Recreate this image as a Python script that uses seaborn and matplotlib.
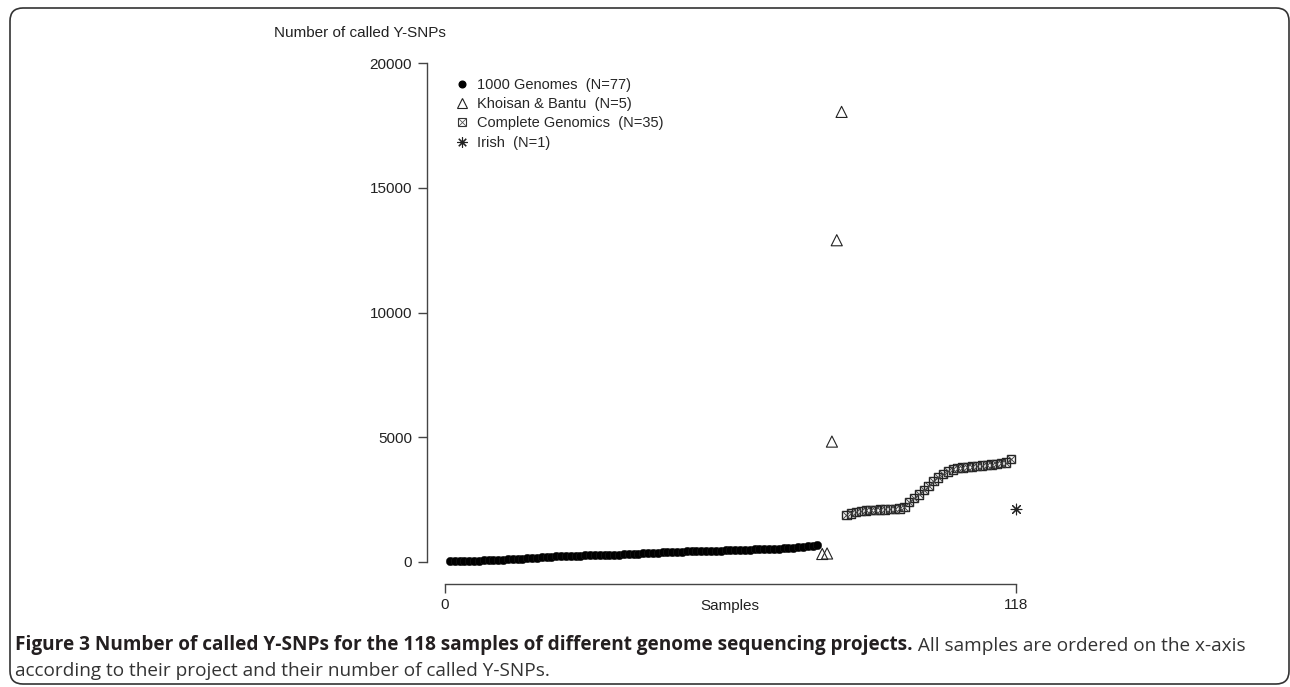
import matplotlib

matplotlib.use("Agg")
import matplotlib.pyplot as plt
import numpy as np
import pandas as pd
import seaborn as sns
from matplotlib.lines import Line2D
from matplotlib.patches import FancyBboxPatch

# Number of called Y-SNPs per sample, each project sorted ascending
genomes_1000 = [
    20, 25, 30, 35, 38, 40, 45, 50, 55, 60,
    70, 80, 90, 100, 110, 120, 135, 150, 165, 180,
    190, 200, 210, 215, 220, 230, 240, 245, 250, 255,
    260, 262, 265, 268, 272, 280, 290, 300, 310, 320,
    330, 340, 350, 360, 370, 380, 390, 400, 405, 410,
    415, 420, 425, 430, 435, 440, 445, 450, 455, 460,
    465, 470, 480, 490, 495, 500, 510, 515, 520, 530,
    540, 555, 570, 590, 610, 640, 670,
]
khoisan_bantu = [310, 330, 4820, 12900, 18050]
complete_genomics = [
    1880, 1940, 2000, 2040, 2060, 2070, 2080, 2090, 2100, 2110,
    2120, 2140, 2200, 2400, 2550, 2700, 2880, 3050, 3250, 3380,
    3520, 3620, 3700, 3750, 3780, 3800, 3820, 3840, 3860, 3880,
    3900, 3920, 3950, 3980, 4110,
]
irish = [2100]

projects = ["1000 Genomes", "Khoisan & Bantu", "Complete Genomics", "Irish"]
values = [genomes_1000, khoisan_bantu, complete_genomics, irish]

# samples are numbered 1..118 in project order
rows = []
i = 1
for name, vals in zip(projects, values):
    for v in vals:
        rows.append({"sample": i, "snps": v, "project": name})
        i += 1
df = pd.DataFrame(rows)
n_total = len(df)

sns.set_style("ticks")
plt.rcParams["font.family"] = ["Liberation Sans", "DejaVu Sans"]

W, H = 1290, 687
fig = plt.figure(figsize=(W / 100, H / 100), dpi=100)
ax = fig.add_axes([445 / W, 1 - 561.7 / H, 570.7 / W, 498.4 / H])

grp = {p: df[df["project"] == p] for p in projects}
sns.scatterplot(data=grp["1000 Genomes"], x="sample", y="snps", ax=ax,
                marker="o", s=38, color="black", edgecolor="#222222",
                linewidth=0.3, clip_on=False, zorder=3)
sns.scatterplot(data=grp["Khoisan & Bantu"], x="sample", y="snps", ax=ax,
                marker="^", s=64, facecolor="none", edgecolor="#222222",
                linewidth=0.8, clip_on=False, zorder=3)
sns.scatterplot(data=grp["Complete Genomics"], x="sample", y="snps", ax=ax,
                marker="s", s=36, facecolor="none", edgecolor="#222222",
                linewidth=1.0, clip_on=False, zorder=3)
sns.scatterplot(data=grp["Complete Genomics"], x="sample", y="snps", ax=ax,
                marker="x", s=36, color="#444444", linewidth=0.7,
                clip_on=False, zorder=3)
sns.scatterplot(data=grp["Irish"], x="sample", y="snps", ax=ax,
                marker=(8, 2, 0), s=59, color="#222222", linewidth=0.8,
                clip_on=False, zorder=3)

ax.set_xlim(0, n_total)
ax.set_ylim(0, 20000)
ax.set_xticks([0, n_total])
ax.set_yticks([0, 5000, 10000, 15000, 20000])
ax.set_xlabel("")
ax.set_ylabel("")
for side in ["top", "right"]:
    ax.spines[side].set_visible(False)
ax.spines["left"].set_position(("outward", 13))
ax.spines["bottom"].set_position(("outward", 16.3))
for side in ["left", "bottom"]:
    ax.spines[side].set_color("#444444")
    ax.spines[side].set_linewidth(1.0)
ax.tick_params(axis="both", direction="out", length=6.2, width=1.0,
               color="#444444", labelsize=11, labelcolor="#222222")
ax.tick_params(axis="y", pad=4.6)
ax.tick_params(axis="x", pad=3.6)

ax.annotate("Samples", xy=(n_total / 2, 0), xycoords=("data", "axes fraction"),
            xytext=(0, -44 * 0.72), textcoords="offset points",
            ha="center", va="center", fontsize=11, color="#222222")
fig.text(274 / W, 1 - 33 / H, "Number of called Y-SNPs", ha="left",
         va="center", fontsize=11, color="#222222")

handles = [
    Line2D([], [], ls="none", marker="o", color="black", markersize=4.8),
    Line2D([], [], ls="none", marker="^", mfc="none", mec="#222222",
           markersize=6.5, mew=0.8),
    (Line2D([], [], ls="none", marker="s", mfc="none", mec="#333333",
            markersize=5.5, mew=0.8),
     Line2D([], [], ls="none", marker="x", color="#555555", markersize=5.5,
            mew=0.6)),
    Line2D([], [], ls="none", marker=(8, 2, 0), color="#222222",
           markersize=7.5, mew=0.8),
]
labels = [f"{p}  (N={len(v)})" for p, v in zip(projects, values)]
ax.legend(handles, labels, loc="upper left",
          bbox_to_anchor=(457 / W, 1 - 78 / H), bbox_transform=fig.transFigure,
          frameon=False, fontsize=10.5, borderpad=0, borderaxespad=0,
          handlelength=0.75, handletextpad=0.6, labelspacing=0.36)

# caption
cap_font = ["Open Sans", "DejaVu Sans"]
cap_size = 13.7
bold = fig.text(15 / W, 1 - 650 / H,
                "Figure 3 Number of called Y-SNPs for the 118 samples of "
                "different genome sequencing projects.",
                ha="left", va="baseline", fontsize=cap_size, fontweight="bold",
                family=cap_font, color="#231f20")
ax.annotate(" All samples are ordered on the x-axis", xy=(1, 0),
            xycoords=bold, ha="left", va="bottom", fontsize=cap_size,
            family=cap_font, color="#333333")
fig.text(15 / W, 1 - 676 / H,
         "according to their project and their number of called Y-SNPs.",
         ha="left", va="baseline", fontsize=cap_size, family=cap_font,
         color="#333333")

frame = FancyBboxPatch((0.10, 0.03), 12.79, 6.76,
                       boxstyle="round,pad=0,rounding_size=0.13",
                       transform=fig.dpi_scale_trans, fill=False,
                       ec="#333333", lw=1.2)
fig.patches.append(frame)

fig.savefig("out.png", dpi=100)
